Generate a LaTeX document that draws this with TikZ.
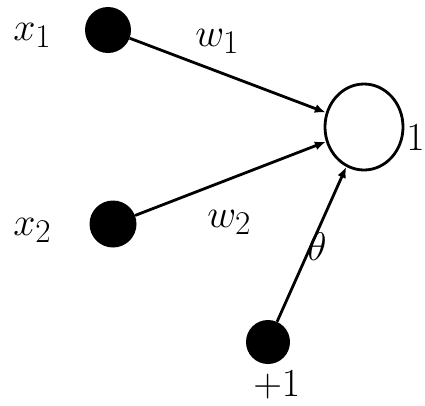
\documentclass[tikz,border=0pt]{standalone}
\usetikzlibrary{arrows.meta,shapes.geometric}
\begin{document}
\begin{tikzpicture}[x=1pt,y=-1pt,
  dot/.style={circle,fill=black,inner sep=0pt,minimum size=#1},
  neuron/.style={ellipse,draw,line width=2.8pt,inner sep=0pt,minimum width=78pt,minimum height=86pt},
  arr/.style={line width=2.8pt,-{Latex[length=11pt,width=9pt]}},
  lbl/.style={inner sep=0pt,anchor=base west,font=\Huge,scale=1.6,transform shape}]
  \useasboundingbox (0,0) rectangle (425,405);
  % inputs and bias
  \node[dot=46pt] (x1) at (108,30) {};
  \node[dot=47pt] (x2) at (113,224) {};
  \node[dot=44pt] (b) at (268,342) {};
  % the unit
  \node[neuron] (n) at (364,127) {};
  % weighted connections
  \draw[arr] (x1) -- (n);
  \draw[arr] (x2) -- (n);
  \draw[arr] (b) -- (n);
  % labels
  \node[lbl] (lx1) at (13,40) {$x_1$};
  \node[lbl] (lx2) at (13,235) {$x_2$};
  \node[lbl] (lw1) at (195,46) {$w_1$};
  \node[lbl] (lw2) at (207,227) {$w_2$};
  \node[lbl] (lth) at (307,260) {$\theta$};
  \node[lbl] (lb) at (253,396) {$+1$};
  \node[lbl] (ly) at (406,150) {$1$};
\end{tikzpicture}
\end{document}
